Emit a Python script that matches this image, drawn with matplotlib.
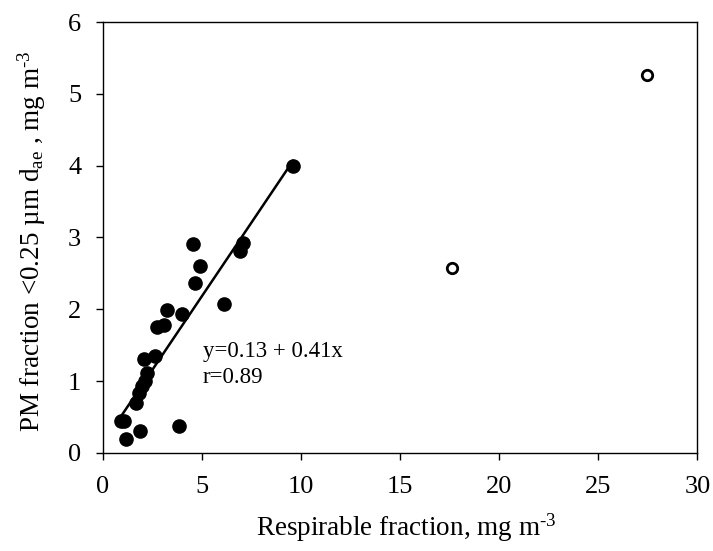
import matplotlib
matplotlib.use("Agg")
import matplotlib.pyplot as plt
import numpy as np

plt.rcParams['font.family'] = ['Liberation Serif', 'DejaVu Serif']
plt.rcParams['mathtext.fontset'] = 'custom'
plt.rcParams['mathtext.rm'] = 'Liberation Serif'
plt.rcParams['mathtext.it'] = 'Liberation Serif:italic'

# filled points (included in regression)
resp_x = [0.92, 1.09, 1.19, 1.87, 1.68, 1.82, 1.99, 2.16, 2.24, 2.07, 2.62,
          2.76, 3.09, 3.27, 3.98, 3.86, 4.54, 4.66, 4.91, 6.10, 6.92, 7.06, 9.62]
pm_y = [0.45, 0.44, 0.19, 0.30, 0.70, 0.84, 0.93, 1.00, 1.11, 1.31, 1.35,
        1.75, 1.78, 1.99, 1.93, 0.375, 2.91, 2.37, 2.60, 2.08, 2.81, 2.92, 3.99]
# open points (outliers)
out_x = [17.6, 27.45]
out_y = [2.58, 5.26]

intercept = 0.13
slope = 0.41
fit_x = [0.9, 9.6]

fig = plt.figure(figsize=(7.13, 5.51), dpi=100)
ax = fig.add_axes([0.144, 0.178, 0.834, 0.782])

ax.plot(resp_x, pm_y, 'o', color='black', markersize=9.5, zorder=3)
ax.plot(out_x, out_y, 'o', markerfacecolor='white', markeredgecolor='black',
        markersize=7.5, markeredgewidth=2, zorder=3)
fx = np.array(fit_x)
ax.plot(fx, intercept + slope * fx, color='black', linewidth=1.8, zorder=2)

ax.text(5.05, 1.34, 'y=0.13 + 0.41x', fontsize=16.5, va='baseline', ha='left')
ax.text(5.05, 0.97, 'r=0.89', fontsize=16.5, va='baseline', ha='left')

ax.set_xlim(0, 30)
ax.set_ylim(0, 6)
ax.set_xticks([0, 5, 10, 15, 20, 25, 30])
ax.set_yticks([0, 1, 2, 3, 4, 5, 6])
ax.tick_params(direction='out', length=5, width=1, labelsize=19,
               top=False, right=False)
ax.tick_params(axis='x', pad=11.5)
ax.tick_params(axis='y', pad=10.5)
for s in ax.spines.values():
    s.set_linewidth(1)

ax.set_xlabel('Respirable fraction, mg m$^{\u2010 3}$', fontsize=19.5)
ax.set_ylabel('PM fraction <0.25 µm d$_{\\mathrm{ae}}$ , mg m$^{\u2010 3}$', fontsize=19.5)
ax.xaxis.set_label_coords(0.51, -0.135)
ax.yaxis.set_label_coords(-0.092, 0.492)

fig.savefig('out.png', dpi=100)
